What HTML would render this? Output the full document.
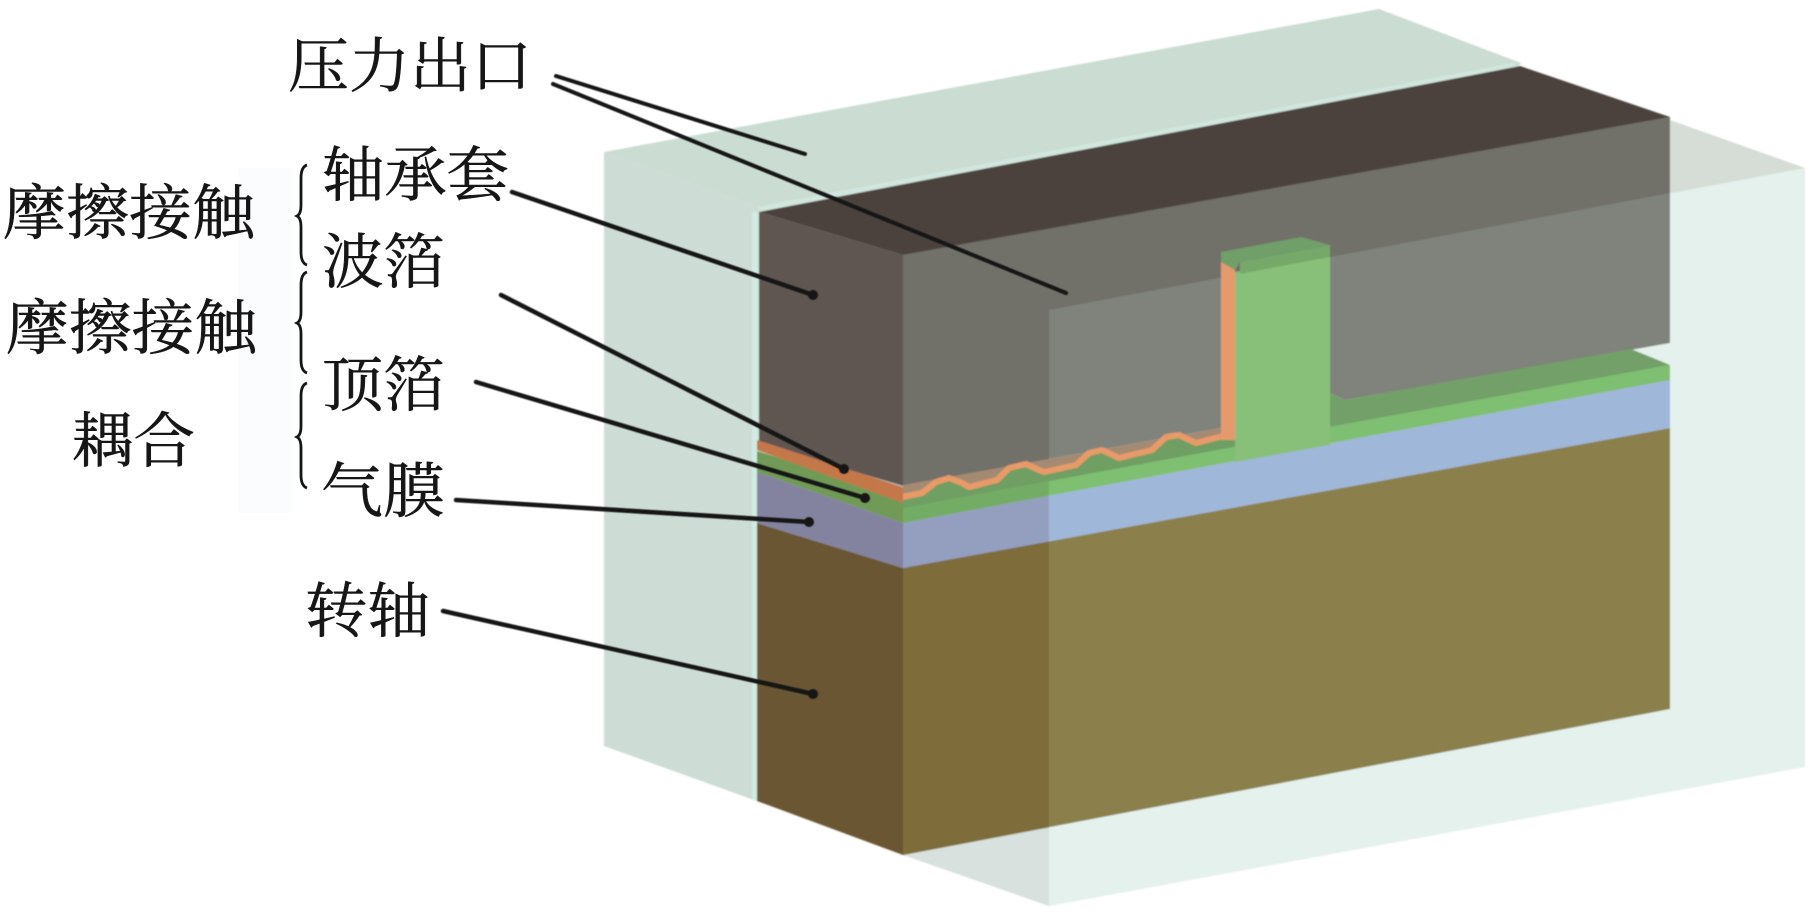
<!DOCTYPE html>
<html lang="zh">
<head>
<meta charset="utf-8">
<title>气膜结构示意图</title>
<style>
html,body{margin:0;padding:0;background:#fff;width:1816px;height:918px;overflow:hidden}
svg{display:block}
text{font-family:"Liberation Serif","Noto Serif CJK SC",serif;font-size:60px;fill:#161616;stroke:#161616;stroke-width:.5px}
</style>
</head>
<body>
<svg width="1816" height="918" viewBox="0 0 1816 918" xmlns="http://www.w3.org/2000/svg">
<defs>
<filter id="b" x="-2%" y="-2%" width="104%" height="104%"><feGaussianBlur stdDeviation="0.8"/></filter>
<filter id="c" x="-5%" y="-5%" width="110%" height="110%"><feGaussianBlur stdDeviation="0.5"/></filter>
<clipPath id="leftOf"><rect x="890" y="0" width="160" height="918"/></clipPath>
</defs>
<rect width="1816" height="918" fill="#fff"/>
<rect x="238" y="168" width="54" height="345" fill="#fafcfe"/>
<g filter="url(#b)" transform="translate(-1,0)">
<!-- glass -->
<polygon points="605,152 1380,9 1522,63 1515,72 1050,310" fill="#cbdcd2"/>
<polygon points="1671,120 1806,168 1671,197" fill="#d5ddd6"/>
<polygon points="605,152 1050,310 1050,906 605,746" fill="#cddcd4"/>
<polygon points="1050,310 1806,168 1806,767 1050,906" fill="#e4f1ed"/>
<polygon points="904,855 1050,828 1050,906" fill="#d8e1dd"/>
<line x1="756" y1="212" x2="756" y2="800" stroke="#d0ebe2" stroke-width="6"/>
<line x1="760" y1="209" x2="1516" y2="65" stroke="#d0e6de" stroke-width="5"/>

<!-- shaft -->
<polygon points="758,523 904,568 904,855 758,801" fill="#6a5630"/>
<polygon points="904,568 1671,428 1671,709 904,855" fill="#8b804b"/>
<!-- air film -->
<polygon points="758,472 904,523 904,568 758,523" fill="#83839f"/>
<polygon points="904,523 1671,380 1671,428 904,568" fill="#9fb7d8"/>
<!-- top foil -->
<polygon points="758,451 904,497 904,523 758,472" fill="#6f9a55"/>
<polygon points="904,497 1241,437 1331,427 1671,365 1671,380 904,523" fill="#7fbf72"/>
<!-- left-of-glass tone -->
<g clip-path="url(#leftOf)">
<polygon points="904,568 1671,428 1671,709 904,855" fill="#7e6c3b"/>
<polygon points="904,523 1671,380 1671,428 904,568" fill="#949fbf"/>
<polygon points="904,497 1241,437 1671,365 1671,380 904,523" fill="#73ad65"/>
</g>

<!-- bearing sleeve -->
<polygon points="760,212 904,255 904,486 760,443" fill="#605651"/>
<polygon points="904,255 1671,117 1671,343 1346,400 1331,393 1331,245 1222,250 1222,428 904,485" fill="#7f837b"/>
<polygon points="904,255 1671,117 1671,193 1050,310 1050,460 904,486" fill="#716f69"/>
<polygon points="760,212 1521,66 1671,117 904,255" fill="#4c423d"/>

<!-- bump foil region -->
<polygon points="904,485 1222,428 1237,441 904,503" fill="#a48a72"/>
<polygon points="903,497 923,493 937,482 950,478 963,483 970,487 998,480 1010,468 1027,464 1040,470 1045,472 1077,465 1090,453 1103,450 1120,458 1153,450 1167,437 1180,435 1197,443 1220,437 1240,437 1240,446 904,508" fill="#6f9f64"/>
<polyline points="903,497 923,493 937,482 950,478 963,483 970,487 998,480 1010,468 1027,464 1040,470 1045,472 1077,465 1090,453 1103,450 1120,458 1153,450 1167,437 1180,435 1197,443 1220,437 1233,434" fill="none" stroke="#e89a68" stroke-width="6" stroke-linejoin="round"/>
<polygon points="758,440 904,487 904,503 758,450" fill="#c4774a"/>
<polygon points="1222,262 1236,262 1236,440 1222,440" fill="#e49a6c"/>

<!-- T stem -->
<polygon points="1236,272 1331,255 1331,445 1236,462" fill="#89c079"/>
<polygon points="1241,262 1331,245 1331,257 1241,274" fill="#76a86b"/>
<polygon points="1222,252 1302,237 1331,245 1241,262 1236,270 1222,262" fill="#6f9f6a"/>
<polygon points="1331,393 1346,400 1632,349 1671,365 1331,427" fill="#72a068"/>
<polygon points="1331,427 1671,365 1671,380 1331,442" fill="#7fbf72"/>
</g>

<!-- leader lines -->
<g stroke="#141414" stroke-linecap="round" fill="#141414" filter="url(#c)">
<line x1="556" y1="76" x2="805" y2="154" stroke-width="4"/>
<line x1="553" y1="84" x2="1066" y2="293" stroke-width="4"/>
<line x1="512" y1="192" x2="813" y2="295" stroke-width="4.5"/>
<line x1="501" y1="295" x2="844" y2="469" stroke-width="4.5"/>
<line x1="476" y1="382" x2="865" y2="498" stroke-width="4.5"/>
<line x1="456" y1="500" x2="809" y2="522" stroke-width="4.5"/>
<line x1="443" y1="611" x2="813" y2="694" stroke-width="4.5"/>
<g stroke="none">
<circle cx="813" cy="295" r="5"/>
<circle cx="844" cy="469" r="5"/>
<circle cx="865" cy="498" r="5"/>
<circle cx="809" cy="522" r="5"/>
<circle cx="813" cy="694" r="5"/>
</g>
</g>

<!-- braces -->
<g fill="none" stroke="#161616" stroke-width="2.8">
<path d="M307,165 Q301,167 301,178 L301,205 Q301,214 297,216 Q301,218 301,227 L301,252 Q301,263 307,265"/>
<path d="M307,272 Q301,274 301,285 L301,312 Q301,321 297,323 Q301,325 301,334 L301,360 Q301,371 307,373"/>
<path d="M307,383 Q301,385 301,396 L301,426 Q301,435 297,437 Q301,439 301,448 L301,475 Q301,486 307,488"/>
</g>

<!-- labels -->
<text x="288" y="87" textLength="244" lengthAdjust="spacingAndGlyphs">压力出口</text>
<text x="322" y="196" textLength="187" lengthAdjust="spacingAndGlyphs">轴承套</text>
<text x="322" y="283" textLength="123" lengthAdjust="spacingAndGlyphs">波箔</text>
<text x="322" y="406" textLength="123" lengthAdjust="spacingAndGlyphs">顶箔</text>
<text x="321" y="512" textLength="124" lengthAdjust="spacingAndGlyphs">气膜</text>
<text x="305" y="632" textLength="125" lengthAdjust="spacingAndGlyphs">转轴</text>
<text x="3" y="234" textLength="252" lengthAdjust="spacingAndGlyphs">摩擦接触</text>
<text x="6" y="349" textLength="251" lengthAdjust="spacingAndGlyphs">摩擦接触</text>
<text x="72" y="462" textLength="123" lengthAdjust="spacingAndGlyphs">耦合</text>
</svg>
</body>
</html>
